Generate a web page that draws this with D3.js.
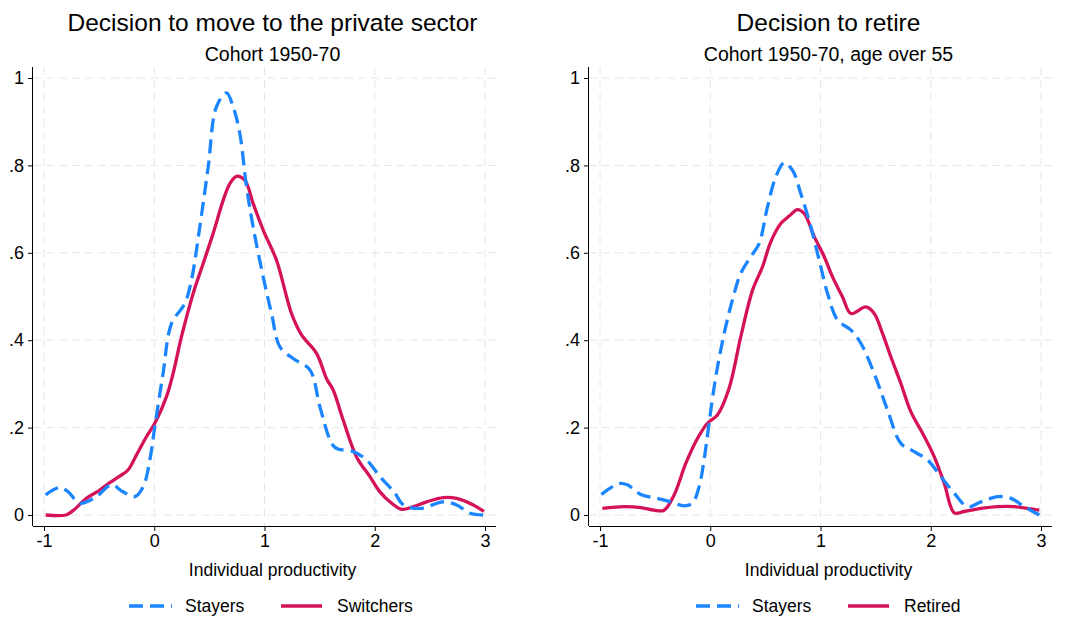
<!DOCTYPE html>
<html>
<head>
<meta charset="utf-8">
<script src="https://cdn.jsdelivr.net/npm/d3@7"></script>
<style>
  body { margin: 0; background: #fff; }
  text { font-family: "Liberation Sans", Arial, sans-serif; fill: #000; }
</style>
</head>
<body>
<script>
// density estimates: [productivity, density]
const leftStayers = [[-0.985,0.046],[-0.858,0.063],[-0.78,0.053],[-0.676,0.027],[-0.525,0.042],[-0.389,0.069],[-0.283,0.053],[-0.177,0.042],[-0.1,0.065],[-0.04,0.126],[0.005,0.202],[0.08,0.324],[0.156,0.438],[0.277,0.484],[0.337,0.537],[0.413,0.659],[0.489,0.796],[0.564,0.934],[0.655,0.966],[0.716,0.934],[0.776,0.873],[0.837,0.751],[0.897,0.659],[0.988,0.545],[1.064,0.461],[1.139,0.385],[1.26,0.358],[1.412,0.332],[1.502,0.248],[1.608,0.164],[1.654,0.152],[1.805,0.145],[1.926,0.126],[2.047,0.088],[2.183,0.05],[2.259,0.023],[2.41,0.015],[2.622,0.03],[2.743,0.023],[2.864,0.004],[2.99,0]];
const leftSwitchers = [[-0.985,0],[-0.8,0],[-0.737,0.01],[-0.616,0.038],[-0.495,0.057],[-0.404,0.074],[-0.313,0.089],[-0.238,0.103],[-0.162,0.137],[-0.071,0.179],[0.005,0.21],[0.111,0.271],[0.171,0.324],[0.247,0.408],[0.353,0.507],[0.443,0.575],[0.534,0.644],[0.625,0.72],[0.685,0.758],[0.746,0.775],[0.822,0.766],[0.897,0.713],[0.988,0.652],[1.109,0.583],[1.245,0.461],[1.336,0.412],[1.472,0.37],[1.563,0.312],[1.623,0.286],[1.714,0.217],[1.835,0.133],[1.956,0.088],[2.047,0.053],[2.153,0.027],[2.244,0.013],[2.35,0.019],[2.47,0.03],[2.622,0.04],[2.743,0.038],[2.894,0.023],[2.99,0.008]];
const rightStayers = [[-0.988,0.047],[-0.828,0.072],[-0.752,0.069],[-0.631,0.047],[-0.48,0.038],[-0.359,0.03],[-0.238,0.021],[-0.162,0.027],[-0.101,0.065],[-0.056,0.126],[-0.011,0.21],[0.05,0.316],[0.126,0.415],[0.201,0.492],[0.277,0.553],[0.368,0.591],[0.443,0.621],[0.519,0.705],[0.595,0.774],[0.67,0.806],[0.746,0.789],[0.822,0.735],[0.913,0.659],[0.988,0.583],[1.064,0.507],[1.155,0.446],[1.276,0.423],[1.366,0.393],[1.487,0.324],[1.608,0.24],[1.729,0.164],[1.85,0.145],[1.971,0.126],[2.092,0.088],[2.213,0.05],[2.334,0.019],[2.455,0.03],[2.606,0.042],[2.728,0.038],[2.849,0.019],[2.985,0]];
const rightRetired = [[-0.979,0.015],[-0.782,0.019],[-0.631,0.017],[-0.51,0.011],[-0.419,0.011],[-0.328,0.046],[-0.222,0.118],[-0.116,0.175],[-0.026,0.21],[0.065,0.229],[0.171,0.29],[0.277,0.408],[0.383,0.514],[0.474,0.568],[0.549,0.625],[0.64,0.667],[0.716,0.684],[0.791,0.699],[0.852,0.69],[0.943,0.637],[1.034,0.591],[1.109,0.545],[1.2,0.499],[1.276,0.461],[1.412,0.476],[1.487,0.461],[1.563,0.415],[1.638,0.362],[1.729,0.301],[1.82,0.236],[1.926,0.187],[2.032,0.133],[2.123,0.072],[2.213,0.005],[2.304,0.008],[2.455,0.015],[2.606,0.019],[2.758,0.019],[2.985,0.011]];

const xTicks = [-1, 0, 1, 2, 3];
const xTickLabels = ["-1", "0", "1", "2", "3"];
const yTicks = [0, 0.2, 0.4, 0.6, 0.8, 1];
const yTickLabels = ["0", ".2", ".4", ".6", ".8", "1"];

const blue = "#1a85ff", red = "#d41159";
const dash = "14,7";

const svg = d3.select("body").append("svg")
    .attr("width", 1067)
    .attr("height", 619);

const panels = [
  {left: 33, title: "Decision to move to the private sector", sub: "Cohort 1950-70",
   a: leftStayers, b: leftSwitchers, names: ["Stayers", "Switchers"], legX: 129},
  {left: 589, title: "Decision to retire", sub: "Cohort 1950-70, age over 55",
   a: rightStayers, b: rightRetired, names: ["Stayers", "Retired"], legX: 696}
];

const plotTop = 67, axisY = 526, w = 463;

panels.forEach(p => {
  const g = svg.append("g");
  const right = p.left + w;
  const cx = p.left + w / 2 + 8;

  const x = d3.scaleLinear().domain([-1, 3]).range([p.left + 11, right - 11]);
  const y = d3.scaleLinear().domain([0, 1]).range([515, 78]);

  // titles
  g.append("text").attr("x", cx).attr("y", 31)
    .attr("text-anchor", "middle").attr("font-size", 24.5).text(p.title);
  g.append("text").attr("x", cx).attr("y", 61)
    .attr("text-anchor", "middle").attr("font-size", 19.5).text(p.sub);

  // grid
  g.selectAll(".gy").data(yTicks).enter().append("line")
    .attr("x1", p.left).attr("x2", right)
    .attr("y1", d => y(d)).attr("y2", d => y(d))
    .attr("stroke", "#e6e6e6").attr("stroke-dasharray", "8,5");
  g.selectAll(".gx").data(xTicks).enter().append("line")
    .attr("x1", d => x(d)).attr("x2", d => x(d))
    .attr("y1", plotTop).attr("y2", axisY)
    .attr("stroke", "#e6e6e6").attr("stroke-dasharray", "8,5");

  // axes
  const yAxis = d3.axisLeft(y).tickValues(yTicks)
    .tickFormat((d, i) => yTickLabels[i]).tickSize(5).tickPadding(4);
  g.append("g").attr("transform", `translate(${p.left},0)`).call(yAxis)
    .call(s => s.select(".domain").attr("d", `M-0.5,${plotTop}V${axisY}`))
    .attr("font-size", 18).attr("font-family", null);

  const xAxis = d3.axisBottom(x).tickValues(xTicks)
    .tickFormat((d, i) => xTickLabels[i]).tickSize(5).tickPadding(3);
  g.append("g").attr("transform", `translate(0,${axisY})`).call(xAxis)
    .call(s => s.select(".domain").attr("d", `M${p.left},0.5H${right}`))
    .attr("font-size", 18).attr("font-family", null);

  g.append("text").attr("x", cx).attr("y", 576)
    .attr("text-anchor", "middle").attr("font-size", 17.5).text("Individual productivity");

  // curves
  const line = d3.line().x(d => x(d[0])).y(d => y(d[1])).curve(d3.curveCatmullRom);
  g.append("path").attr("d", line(p.b)).attr("fill", "none")
    .attr("stroke", red).attr("stroke-width", 3.3).attr("stroke-linejoin", "round");
  g.append("path").attr("d", line(p.a)).attr("fill", "none")
    .attr("stroke", blue).attr("stroke-width", 3.3).attr("stroke-dasharray", dash);

  // legend
  const ly = 606;
  g.append("line").attr("x1", p.legX).attr("x2", p.legX + 43).attr("y1", ly).attr("y2", ly)
    .attr("stroke", blue).attr("stroke-width", 3.3).attr("stroke-dasharray", dash);
  g.append("text").attr("x", p.legX + 56).attr("y", ly + 6).attr("font-size", 17.5).text(p.names[0]);
  const l2 = p.legX + 152;
  g.append("line").attr("x1", l2).attr("x2", l2 + 41).attr("y1", ly).attr("y2", ly)
    .attr("stroke", red).attr("stroke-width", 3.3);
  g.append("text").attr("x", l2 + 56).attr("y", ly + 6).attr("font-size", 17.5).text(p.names[1]);
});
</script>
</body>
</html>
